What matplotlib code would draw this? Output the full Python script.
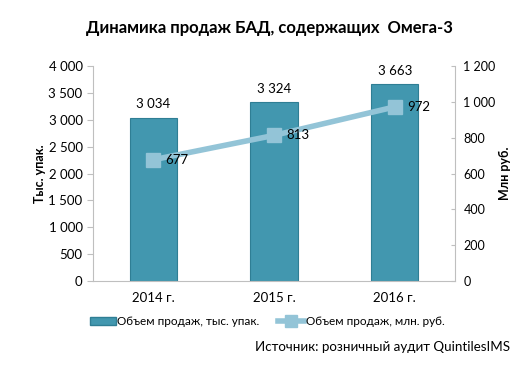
import matplotlib.pyplot as plt
from matplotlib.ticker import FuncFormatter
from matplotlib.patches import Patch
from matplotlib.lines import Line2D

years = ["2014 г.", "2015 г.", "2016 г."]
packs = [3034, 3324, 3663]      # тыс. упак.
rub = [677, 813, 972]           # млн. руб.

bar_color = "#4297AF"
bar_edge = "#2F7E94"
line_color = "#93C4D7"
grid_gray = "#BFBFBF"

plt.rcParams['font.family'] = ['Lato', 'DejaVu Sans']


def thousands(v, pos):
    return "{:,.0f}".format(v).replace(",", " ")


fig = plt.figure(figsize=(5.28, 3.70), dpi=100)
ax = fig.add_axes([0.176, 0.2405, 0.686, 0.581])
ax2 = ax.twinx()

x = range(len(years))
ax.bar(x, packs, width=0.39, color=bar_color, edgecolor=bar_edge, linewidth=0.8, zorder=2)
for xi, v in zip(x, packs):
    ax.text(xi, v + 140, thousands(v, None), ha="center", va="bottom", fontsize=9.5)

ax.set_xlim(-0.5, 2.5)
ax.set_ylim(0, 4000)
ax.set_yticks(range(0, 4001, 500))
ax.yaxis.set_major_formatter(FuncFormatter(thousands))
ax.set_xticks(list(x))
ax.set_xticklabels(years)
ax.set_ylabel("Тыс. упак.", fontsize=9, fontweight="bold", labelpad=2)

ax2.plot(x, rub, color=line_color, linewidth=4, marker="s", markersize=10,
         markerfacecolor=line_color, markeredgecolor=line_color, zorder=3)
for xi, v in zip(x, rub):
    ax2.text(xi + 0.1, v, str(v), ha="left", va="center", fontsize=9.5)
ax2.set_ylim(0, 1200)
ax2.set_yticks(range(0, 1201, 200))
ax2.yaxis.set_major_formatter(FuncFormatter(thousands))
ax2.set_ylabel("Млн руб.", fontsize=9, fontweight="bold", labelpad=2, rotation=90)

for a in (ax, ax2):
    for s in a.spines.values():
        s.set_visible(False)
    a.tick_params(labelsize=9.5, colors="#000000")
ax2.tick_params(labelsize=9)
ax.spines["left"].set_visible(True)
ax.spines["left"].set_color(grid_gray)
ax.spines["bottom"].set_visible(True)
ax.spines["bottom"].set_color(grid_gray)
ax2.spines["right"].set_visible(True)
ax2.spines["right"].set_color(grid_gray)
ax.tick_params(axis="y", color=grid_gray, length=4)
ax.tick_params(axis="x", length=0, pad=8)
ax2.tick_params(axis="y", color=grid_gray, length=3, direction="in", pad=6)
ax.set_zorder(ax2.get_zorder() - 1)
ax.patch.set_visible(False)
ax2.patch.set_visible(False)

fig.text(0.511, 0.924, "Динамика продаж БАД, содержащих  Омега-3",
         ha="center", va="center", fontsize=12, fontweight="bold")

# legend
handles = [Patch(facecolor=bar_color, edgecolor=bar_edge),
           Line2D([], [], color=line_color, linewidth=4, marker="s", markersize=8)]
fig.legend(handles, ["Объем продаж, тыс. упак.", "Объем продаж, млн. руб."],
           loc="center", bbox_to_anchor=(0.506, 0.13), ncol=2, frameon=False,
           fontsize=8.5, handlelength=2.2, handletextpad=0.1, columnspacing=1.6)

fig.text(0.966, 0.062, "Источник: розничный аудит QuintilesIMS",
         ha="right", va="center", fontsize=9.6)

plt.savefig("out.png", dpi=100)
